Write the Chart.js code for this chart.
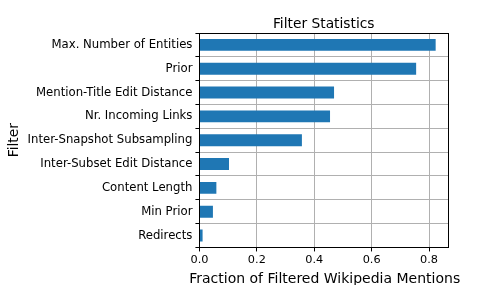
<!DOCTYPE html>
<html>
<head>
<meta charset="utf-8">
<script src="https://cdn.jsdelivr.net/npm/chart.js@4"></script>
<style>
  html, body { margin: 0; padding: 0; background: #fff; }
  #wrap { width: 498px; height: 285px; }
</style>
</head>
<body>
<div id="wrap"><canvas id="chart"></canvas></div>
<script>
// Filters, top to bottom as drawn
const filters = [
    'Max. Number of Entities',
    'Prior',
    'Mention-Title Edit Distance',
    'Nr. Incoming Links',
    'Inter-Snapshot Subsampling',
    'Inter-Subset Edit Distance',
    'Content Length',
    'Min Prior',
    'Redirects'
];
const fractions = [0.823, 0.755, 0.469, 0.455, 0.357, 0.103, 0.059, 0.047, 0.011];
const xTicks = [0.0, 0.2, 0.4, 0.6, 0.8];
const chartTitle = 'Filter Statistics';
const xTitle = 'Fraction of Filtered Wikipedia Mentions';

const FONT = 'DejaVu Sans';

// box around the plot (matplotlib spines), title and x label centred on the plot.
// The x label is drawn here because Chart.js squeezes axis titles to the axis width.
const frame = {
    id: 'frame',
    afterDraw(chart) {
        const a = chart.chartArea;
        const ctx = chart.ctx;
        const cx = (a.left + a.right) / 2;
        ctx.save();
        ctx.strokeStyle = '#000';
        ctx.lineWidth = 1;
        ctx.strokeRect(Math.round(a.left) + 0.5, Math.round(a.top) + 0.5,
            Math.round(a.right - a.left), Math.round(a.bottom - a.top));
        ctx.fillStyle = '#000';
        ctx.textAlign = 'center';
        ctx.textBaseline = 'alphabetic';
        ctx.font = '13.8px "' + FONT + '"';
        ctx.fillText(chartTitle, cx, a.top - 5.5);
        ctx.font = '14px "' + FONT + '"';
        ctx.fillText(xTitle, cx + 1, a.bottom + 36);
        ctx.restore();
    }
};

const config = {
    type: 'bar',
    data: {
        labels: filters,
        datasets: [{
            label: 'fraction',
            data: fractions,
            backgroundColor: '#1f77b4',
            borderWidth: 0,
            barPercentage: 0.5,
            categoryPercentage: 1.0
        }]
    },
    options: {
        indexAxis: 'y',
        responsive: true,
        maintainAspectRatio: false,
        animation: false,
        layout: { padding: { left: 6, right: 50, top: 33, bottom: 16 } },
        scales: {
            x: {
                min: 0,
                max: 0.866,
                z: 1,
                afterBuildTicks: axis => { axis.ticks = xTicks.map(v => ({ value: v })); },
                ticks: {
                    color: '#000',
                    font: { family: FONT, size: 11.3 },
                    padding: 2,
                    maxRotation: 0,
                    callback: v => v.toFixed(1)
                },
                grid: { color: '#b0b0b0', lineWidth: 1, tickLength: 4, tickColor: '#000' },
                border: { display: false }
            },
            y: {
                z: 1,
                ticks: {
                    color: '#000',
                    font: { family: FONT, size: 11.7 },
                    padding: 3
                },
                grid: { color: '#b0b0b0', lineWidth: 1, tickLength: 4, tickColor: '#000' },
                border: { display: false },
                title: {
                    display: true,
                    text: 'Filter',
                    color: '#000',
                    font: { family: FONT, size: 13.8 },
                    padding: { top: 0, bottom: 2 }
                }
            }
        },
        plugins: {
            legend: { display: false },
            tooltip: { enabled: false },
            title: { display: false }
        }
    },
    plugins: [frame]
};

new Chart(document.getElementById('chart').getContext('2d'), config);
</script>
</body>
</html>
